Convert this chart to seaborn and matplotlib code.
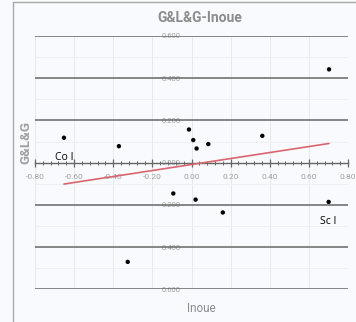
import numpy as np
import pandas as pd
import matplotlib
matplotlib.use("Agg")
import matplotlib.pyplot as plt
from matplotlib.ticker import MultipleLocator, FuncFormatter
from matplotlib.lines import Line2D
import seaborn as sns

# Scores: Inoue (x) versus G&L&G (y)
inoue = [0.703, -0.652, -0.371, -0.013, 0.009, 0.026, 0.086, 0.362,
         -0.093, 0.021, 0.701, 0.160, -0.326]
glg = [0.442, 0.118, 0.078, 0.157, 0.107, 0.067, 0.088, 0.127,
       -0.146, -0.175, -0.186, -0.236, -0.470]

x_ticks = [-0.8, -0.6, -0.4, -0.2, 0.0, 0.2, 0.4, 0.6, 0.8]
y_ticks = [-0.6, -0.4, -0.2, 0.0, 0.2, 0.4, 0.6]

# Labelled points
labels = ["Co I", "Sc I"]
label_x = [-0.652, 0.701]
label_y = [0.118, -0.186]

df = pd.DataFrame({"Inoue": inoue, "G&L&G": glg})

sns.set_style("white")
plt.rcParams["font.family"] = ["Roboto", "DejaVu Sans"]

W, H = 356, 322
fig = plt.figure(figsize=(W / 100, H / 100), dpi=100)
fig.patch.set_facecolor("#f9fafd")

ax = fig.add_axes([35 / W, (H - 289.3) / H, 313 / W, (289.3 - 36) / H])
ax.set_facecolor("#f9fafd")
ax.set_xlim(-0.8, 0.8)
ax.set_ylim(-0.6, 0.6)

# faint background grid
for xv in x_ticks:
    ax.axvline(xv, color="#e6e8ef", lw=0.7, zorder=0)
for yv in np.arange(-0.5, 0.6, 0.2):
    ax.axhline(yv, color="#eceef4", lw=0.6, zorder=0)

# dark horizontal gridlines
for yv in y_ticks:
    if yv != 0:
        ax.axhline(yv, color="#666666", lw=1.1, zorder=1)

# spines: x axis through y=0, y axis through x=0 (hidden line)
for s in ["top", "right"]:
    ax.spines[s].set_visible(False)
ax.spines["bottom"].set_position(("data", 0))
ax.spines["bottom"].set_color("#666666")
ax.spines["bottom"].set_linewidth(1.0)
ax.spines["left"].set_position(("data", 0))
ax.spines["left"].set_visible(False)

ax.set_xticks(x_ticks)
ax.xaxis.set_minor_locator(MultipleLocator(0.04))
ax.xaxis.set_major_formatter(FuncFormatter(lambda v, p: f"{v:.2f}"))
ax.tick_params(axis="x", which="both", bottom=True)
ax.tick_params(axis="x", which="major", direction="inout", length=6,
               width=0.9, color="#666666", labelsize=6, labelcolor="#a0a0a0",
               pad=5.5)
ax.tick_params(axis="x", which="minor", direction="inout", length=3.5,
               width=0.7, color="#666666")

ax.set_yticks(y_ticks)
ax.yaxis.set_major_formatter(FuncFormatter(lambda v, p: f"{abs(v):.3f}"))
ax.tick_params(axis="y", which="major", left=False, length=0, labelsize=5.5,
               labelcolor="#a0a0a0", pad=8)

sns.regplot(data=df, x="Inoue", y="G&L&G", ax=ax, scatter=False, ci=None,
            truncate=True, line_kws={"color": "#d9656f", "lw": 1.2, "zorder": 3})
sns.scatterplot(data=df, x="Inoue", y="G&L&G", ax=ax, color="black",
                s=10, edgecolor="none", zorder=4)
ax.set_xlabel("")
ax.set_ylabel("")

for t, lx, ly in zip(labels, label_x, label_y):
    ax.annotate(t, (lx, ly), xytext=(0, -14), textcoords="offset points",
                ha="center", va="center", fontsize=7.5, color="black",
                family=["Open Sans", "DejaVu Sans"])

fig.text(200 / W, 1 - 18 / H, "G&L&G-Inoue", ha="center", va="center",
         fontsize=10, fontweight="bold", color="#8c8c8c")
fig.text(26 / W, 1 - 142 / H, "G&L&G", ha="center", va="center",
         rotation=90, fontsize=9.5, fontweight="bold", color="#a0a0a0")
fig.text(201 / W, 1 - 308 / H, "Inoue", ha="center", va="center",
         fontsize=8.5, color="#8c8c8c")

# outer frame: left and top edges
fig.lines.append(Line2D([12.5 / W, 12.5 / W], [0, 1 - 2 / H],
                        transform=fig.transFigure, color="#a8a8a8", lw=1.0))
fig.lines.append(Line2D([12.5 / W, 1], [1 - 2 / H, 1 - 2 / H],
                        transform=fig.transFigure, color="#a8a8a8", lw=1.0))

fig.savefig("out.png", dpi=100, facecolor=fig.get_facecolor())
